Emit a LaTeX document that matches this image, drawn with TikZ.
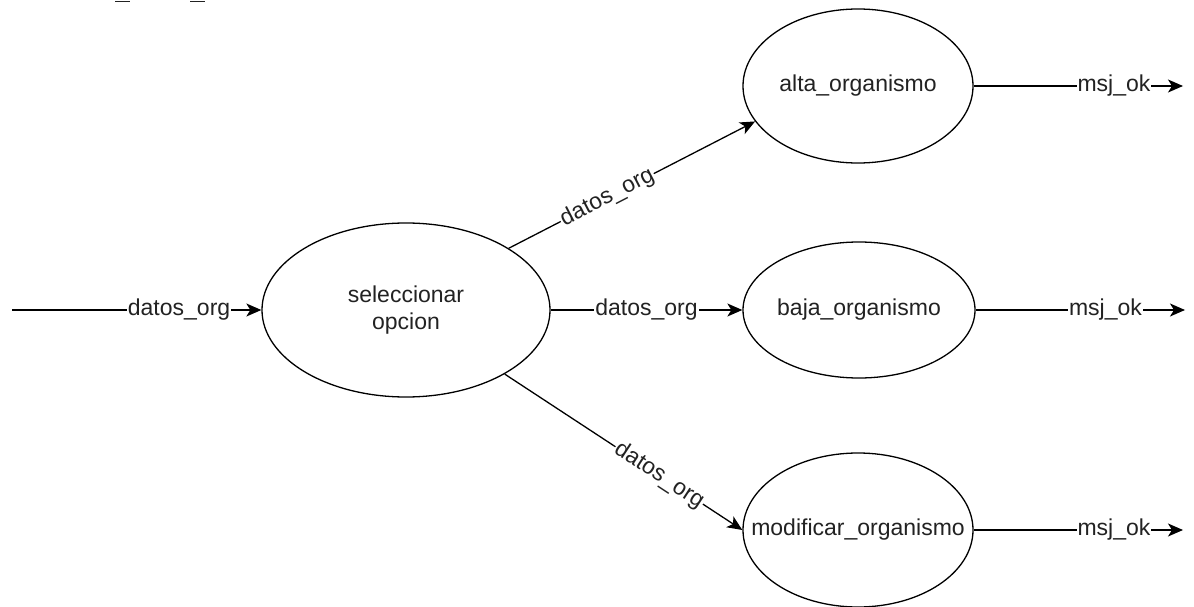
\documentclass[tikz,border=0pt]{standalone}
\usepackage{fontspec}
\setmainfont{Liberation Sans}
\usetikzlibrary{shapes.geometric,arrows.meta}
\definecolor{ink}{HTML}{222222}
\newcommand{\nowidth}[1]{\makebox[0pt]{#1}}
\begin{document}
\begin{tikzpicture}[x=1pt,y=-1pt,
  font=\fontsize{23}{27}\selectfont,
  proc/.style={ellipse,draw=black,line width=1.3pt,inner sep=0pt,text=ink,align=center},
  flow/.style={draw=black,line width=1.3pt,-{Stealth[length=15pt,width=13pt,inset=4pt]}},
  tag/.style={fill=white,inner sep=1pt,text=ink}]
\useasboundingbox (0,0) rectangle (1194,607);

% processes (labels in zero-width boxes so the ellipse keeps its set size)
\node[proc,minimum width=288pt,minimum height=174pt] (sel) at (406,310) {seleccionar\\opcion};
\node[proc,minimum width=230pt,minimum height=154pt] (alta) at (858,86) {\nowidth{alta\_organismo}};
\node[proc,minimum width=232pt,minimum height=136pt] (baja) at (859,310) {\nowidth{baja\_organismo}};
\node[proc,minimum width=230pt,minimum height=154pt] (mod) at (858,530) {\nowidth{modificar\_organismo}};

% free ends of the input and output flows
\coordinate (in) at (12,310);
\coordinate (o1) at (1183,86);
\coordinate (o2) at (1185,310);
\coordinate (o3) at (1183,530);

% flows
\draw[flow] (in) -- node[tag,pos=0.67] {datos\_org} (sel.west);
\draw[flow] (sel.east) -- node[tag,pos=0.5] {datos\_org} (baja.west);
\draw[flow] (sel.31) -- node[tag,sloped,pos=0.4] {datos\_org} (alta.199);
\draw[flow] (sel.-33) -- node[tag,sloped,pos=0.65] {datos\_org} (mod.west);

\draw[flow] (alta.east) -- node[tag,pos=0.67] {msj\_ok} (o1);
\draw[flow] (baja.east) -- node[tag,pos=0.62] {msj\_ok} (o2);
\draw[flow] (mod.east) -- node[tag,pos=0.67] {msj\_ok} (o3);

% clipped marks along the top edge
\draw[ink,line width=1.5pt] (115,1.5) -- (130,1.5);
\draw[ink,line width=1.5pt] (190,1.5) -- (205,1.5);
\end{tikzpicture}
\end{document}
